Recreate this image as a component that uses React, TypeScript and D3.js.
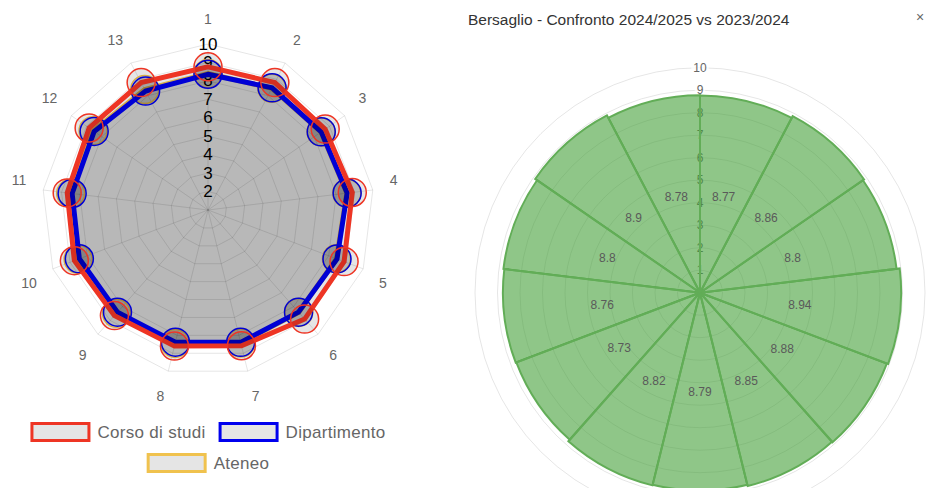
import React from 'react';
import * as d3 from 'd3';

const width = 926;
const height = 488;
const font = '"Liberation Sans", Arial, sans-serif';

// radar (left)
const categories = ['1', '2', '3', '4', '5', '6', '7', '8', '9', '10', '11', '12', '13'];
const corso = [8.76, 8.8, 8.72, 8.88, 8.89, 8.9, 8.58, 8.6, 8.65, 8.75, 8.69, 8.83, 8.8];
const dipartimento = [8.36, 8.48, 8.46, 8.6, 8.48, 8.4, 8.39, 8.38, 8.4, 8.46, 8.42, 8.5, 8.28];
const ateneo = [8.4, 8.45, 8.45, 8.58, 8.45, 8.42, 8.43, 8.45, 8.48, 8.53, 8.5, 8.57, 8.38];
const radarTicks = [2, 3, 4, 5, 6, 7, 8, 9, 10];
const seriesNames = ['Corso di studi', 'Dipartimento', 'Ateneo'];
const seriesColors = ['#ee3524', '#0000ee', '#f0c24e'];

// polar area (right)
const bersaglio = [8.77, 8.86, 8.8, 8.94, 8.88, 8.85, 8.79, 8.82, 8.73, 8.76, 8.8, 8.9, 8.78];
const polarTicks = [1, 2, 3, 4, 5, 6, 7, 8, 9, 10];
const title = 'Bersaglio - Confronto 2024/2025 vs 2023/2024';

const radar = {cx: 208, cy: 210, r: 166};
const polar = {cx: 700, cy: 292.7, r: 225};

const measure = (() => {
  const ctx = document.createElement('canvas').getContext('2d');
  return (t: string, size: number, spacing = 0) => {
    if (!ctx) return t.length * size * 0.5;
    ctx.font = `${size}px "Liberation Sans", Arial`;
    return ctx.measureText(t).width + spacing * t.length;
  };
})();

function Radar() {
  const n = categories.length;
  const step = (2 * Math.PI) / n;
  const rScale = d3.scaleLinear().domain([1, 10]).range([0, radar.r]);
  const line = d3.lineRadial<number>()
    .angle((d, i) => i * step)
    .radius(d => rScale(d))
    .curve(d3.curveLinearClosed);
  const pos = (v: number, i: number) => {
    const r = rScale(v);
    return [r * Math.sin(i * step), -r * Math.cos(i * step)];
  };
  const data = [corso, dipartimento, ateneo];

  // point labels placed like chart.js
  const R = 183;
  const h = 14 * 1.2;
  const pointLabels = categories.map((c, i) => {
    const a = i * step;
    const x = R * Math.sin(a);
    let y = -R * Math.cos(a);
    const deg = Math.round((a * 180) / Math.PI);
    if (deg === 90 || deg === 270) y += 0;
    else if (deg > 270 || deg < 90) y -= h / 2;
    else y += h / 2;
    const anchor = deg === 0 || deg === 180 ? 'middle' : deg < 180 ? 'start' : 'end';
    return {c, x, y, anchor};
  });

  // legend
  const rows = [[0, 1], [2]];
  const boxW = 60, boxH = 20, gap = 7, spacing = 13;
  const legendTop = 422;
  const legendSize = 17, legendSpacing = 0.3;

  return (
    <g>
      <g transform={`translate(${radar.cx},${radar.cy})`}>
        {radarTicks.map(t => (
          <path key={t} d={line(categories.map(() => t)) || ''} fill="none" stroke="rgba(0,0,0,0.1)" strokeWidth={1}/>
        ))}
        {categories.map((c, i) => {
          const [x, y] = pos(10, i);
          return <line key={c} x1={0} y1={0} x2={x} y2={y} stroke="rgba(0,0,0,0.1)" strokeWidth={1}/>;
        })}
        {radarTicks.map(t => (
          <text key={t} x={0} y={-rScale(t)} textAnchor="middle" dominantBaseline="central"
                fontSize={17} fontFamily={font} fill="#000">{t}</text>
        ))}
        {pointLabels.map(p => (
          <text key={p.c} x={p.x} y={p.y} textAnchor={p.anchor} dominantBaseline="central"
                fontSize={14} fontFamily={font} fill="#666">{p.c}</text>
        ))}
        {[2, 1, 0].map(k => (
          <g key={k}>
            <path d={line(data[k]) || ''} fill="rgba(0,0,0,0.1)" stroke={seriesColors[k]} strokeWidth={5} strokeLinejoin="miter"/>
            {data[k].map((v, i) => {
              const [x, y] = pos(v, i);
              return <circle key={i} cx={x} cy={y} r={14} fill="rgba(0,0,0,0.1)" stroke={seriesColors[k]} strokeWidth={1.5}/>;
            })}
          </g>
        ))}
      </g>
      {rows.map((row, ri) => {
        const widths = row.map(k => boxW + gap + measure(seriesNames[k], legendSize, legendSpacing));
        const total = d3.sum(widths) + spacing * (row.length - 1);
        let x = radar.cx - total / 2;
        const y = legendTop + ri * 31;
        return row.map((k, j) => {
          const x0 = x;
          x += widths[j] + spacing;
          return (
            <g key={k}>
              <rect x={x0 + 1.5} y={y + 1.5} width={boxW - 3} height={boxH - 3} fill="rgba(0,0,0,0.1)"
                    stroke={seriesColors[k]} strokeWidth={3}/>
              <text x={x0 + boxW + gap} y={y + boxH / 2} dominantBaseline="central" fontSize={legendSize}
                    letterSpacing={legendSpacing} fontFamily={font} fill="#666">{seriesNames[k]}</text>
            </g>
          );
        });
      })}
    </g>
  );
}

function Polar() {
  const n = bersaglio.length;
  const step = (2 * Math.PI) / n;
  const rScale = d3.scaleLinear().domain([0, 10]).range([0, polar.r]);
  const arc = d3.arc<number>()
    .innerRadius(0)
    .outerRadius(d => rScale(d))
    .startAngle((d, i) => i * step)
    .endAngle((d, i) => (i + 1) * step);
  const arcs = bersaglio.map((v, i) => ({
    path: arc(v, i) || '',
    centroid: arc.centroid(v, i),
    v,
  }));
  const minR = rScale(d3.min(bersaglio) || 0);

  return (
    <g>
      <text x={468} y={25} fontSize={15.5} fontFamily={font} fill="#333">{title}</text>
      <text x={916} y={22} fontSize={14} fontFamily={font} fill="#666">×</text>
      <g transform={`translate(${polar.cx},${polar.cy})`}>
        {polarTicks.map(t => (
          <circle key={t} r={rScale(t)} fill="none" stroke="rgba(0,0,0,0.1)" strokeWidth={1}/>
        ))}
        {polarTicks.map(t => {
          const w = measure(String(t), 12);
          return (
            <g key={t}>
              {rScale(t) > minR && (
                <rect x={-w / 2 - 2} y={-rScale(t) - 8} width={w + 4} height={16} fill="rgba(255,255,255,0.75)"/>
              )}
              <text x={0} y={-rScale(t)} textAnchor="middle" dominantBaseline="central" fontSize={12}
                    fontFamily={font} fill="#666">{t}</text>
            </g>
          );
        })}
        {arcs.map((a, i) => (
          <path key={i} d={a.path} fill="rgba(68,160,56,0.6)" stroke="#62ad57" strokeWidth={2}/>
        ))}
        {arcs.map((a, i) => (
          <text key={i} x={a.centroid[0]} y={a.centroid[1]} textAnchor="middle" dominantBaseline="central"
                fontSize={12} fontFamily={font} fill="#5a5a5a">{a.v}</text>
        ))}
      </g>
    </g>
  );
}

export default function App() {
  return (
    <svg width={width} height={height} style={{position: 'absolute', left: 0, top: 0, background: '#fff'}}>
      <Radar/>
      <Polar/>
    </svg>
  );
}
